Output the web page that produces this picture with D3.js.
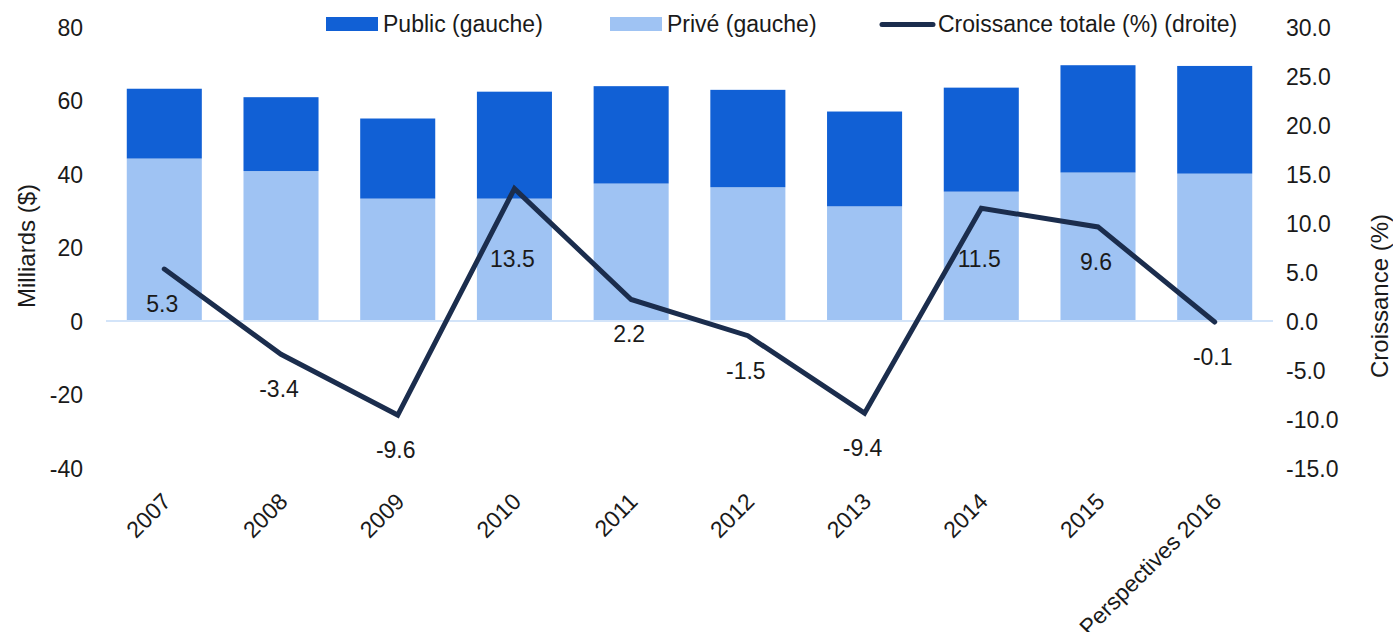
<!DOCTYPE html>
<html>
<head>
<meta charset="utf-8">
<script src="https://cdn.jsdelivr.net/npm/d3@7"></script>
<style>
  body { margin: 0; background: #fff; }
  svg text { font-family: "Helvetica Neue", "Liberation Sans", Arial, sans-serif; fill: #1a1a1a; }
</style>
</head>
<body>
<svg id="chart" width="1393" height="632"></svg>
<script>
// data
var years = ["2007", "2008", "2009", "2010", "2011", "2012", "2013", "2014", "2015", "Perspectives 2016"]
var prive = [44.2, 40.8, 33.3, 33.3, 37.4, 36.4, 31.2, 35.2, 40.4, 40.1]
var publicVals = [19.0, 20.1, 21.8, 29.1, 26.5, 26.5, 25.8, 28.3, 29.2, 29.3]
var croissance = [5.3, -3.4, -9.6, 13.5, 2.2, -1.5, -9.4, 11.5, 9.6, -0.1]
var leftTicks = [-40, -20, 0, 20, 40, 60, 80]
var rightTicks = [-15, -10, -5, 0, 5, 10, 15, 20, 25, 30]

var col_public = "#1160d5"
var col_prive = "#9fc3f3"
var col_line = "#1b2d4d"

var svg = d3.select("#chart")

/// layout
var plot_left = 106, plot_right = 1273
var y_top = 27, y_bot = 468
var fs = "23px"

// plain hyphen for negatives, like the original
function fmt1(v) { return v.toFixed(1) }
function fmt0(v) { return String(v) }

var x = d3.scaleBand()
  .domain(years)
  .range([plot_left, plot_right])
  .paddingInner(0.357)
  .paddingOuter(0.178)

var yL = d3.scaleLinear().domain([-40, 80]).range([y_bot, y_top])
var yR = d3.scaleLinear().domain([-15, 30]).range([y_bot, y_top])

var rows = years.map(function(d, i) {
  return {yr: d, prive: prive[i], pub: publicVals[i], g: croissance[i]}
})

// bars - private at bottom, public stacked on top
svg.append("g").selectAll("rect")
  .data(rows)
  .enter()
  .append("rect")
    .attr("x", function(d) { return x(d.yr) })
    .attr("width", x.bandwidth())
    .attr("y", function(d) { return yL(d.prive) })
    .attr("height", function(d) { return yL(0) - yL(d.prive) })
    .attr("fill", col_prive)

svg.append("g").selectAll("rect")
  .data(rows)
  .enter()
  .append("rect")
    .attr("x", function(d) { return x(d.yr) })
    .attr("width", x.bandwidth())
    .attr("y", function(d) { return yL(d.prive + d.pub) })
    .attr("height", function(d) { return yL(d.prive) - yL(d.prive + d.pub) })
    .attr("fill", col_public)

// zero line
svg.append("line")
  .attr("x1", plot_left).attr("x2", plot_right)
  .attr("y1", yL(0)).attr("y2", yL(0))
  .attr("stroke", "#d3e4f9")
  .attr("stroke-width", 2)

// left axis
var axL = svg.append("g")
  .attr("transform", "translate(83,0)")
  .call(d3.axisLeft(yL).tickValues(leftTicks).tickSize(0).tickPadding(0).tickFormat(fmt0))
axL.select(".domain").remove()
axL.selectAll("text").style("font-size", fs).attr("dy", "0.35em")

// right axis
var axR = svg.append("g")
  .attr("transform", "translate(1286,0)")
  .call(d3.axisRight(yR).tickValues(rightTicks).tickSize(0).tickPadding(0).tickFormat(fmt1))
axR.select(".domain").remove()
axR.selectAll("text").style("font-size", fs).attr("dy", "0.35em")

// x labels, rotated
svg.append("g").selectAll("text")
  .data(years)
  .enter()
  .append("text")
    .attr("transform", function(d) {
      return "translate(" + (x(d) + x.bandwidth() / 2 + 8) + ",503) rotate(-45)"
    })
    .attr("text-anchor", "end")
    .style("font-size", fs)
    .text(function(d) { return d })

// axis titles
svg.append("text")
  .attr("transform", "translate(35,246) rotate(-90)")
  .attr("text-anchor", "middle")
  .style("font-size", "24px")
  .text("Milliards ($)")

svg.append("text")
  .attr("transform", "translate(1388,296) rotate(-90)")
  .attr("text-anchor", "middle")
  .style("font-size", "24px")
  .text("Croissance (%)")

// growth line
var lineFn = d3.line()
  .x(function(d) { return x(d.yr) + x.bandwidth() / 2 })
  .y(function(d) { return yR(d.g) })

svg.append("path")
  .attr("d", lineFn(rows))
  .attr("fill", "none")
  .attr("stroke", col_line)
  .attr("stroke-width", 5)
  .attr("stroke-linecap", "round")

// labels under the points (pushed down when the point is high)
svg.append("g").selectAll("text")
  .data(rows)
  .enter()
  .append("text")
    .attr("x", function(d) { return x(d.yr) + x.bandwidth() / 2 - 2 })
    .attr("y", function(d) { return Math.max(yR(d.g) + 35, yR(0) - 62) })
    .attr("dy", "0.35em")
    .attr("text-anchor", "middle")
    .style("font-size", fs)
    .text(function(d) { return fmt1(d.g) })

// legend
var leg = svg.append("g")
leg.append("rect").attr("x", 326).attr("y", 17).attr("width", 52).attr("height", 14).attr("fill", col_public)
leg.append("text").attr("x", 383).attr("y", 24).attr("dy", "0.35em").style("font-size", fs).text("Public (gauche)")
leg.append("rect").attr("x", 610).attr("y", 17).attr("width", 52).attr("height", 14).attr("fill", col_prive)
leg.append("text").attr("x", 667).attr("y", 24).attr("dy", "0.35em").style("font-size", fs).text("Privé (gauche)")
leg.append("line").attr("x1", 882).attr("x2", 933).attr("y1", 24.5).attr("y2", 24.5)
  .attr("stroke", col_line).attr("stroke-width", 5).attr("stroke-linecap", "round")
leg.append("text").attr("x", 938).attr("y", 24).attr("dy", "0.35em").style("font-size", fs).text("Croissance totale (%) (droite)")
</script>
</body>
</html>
